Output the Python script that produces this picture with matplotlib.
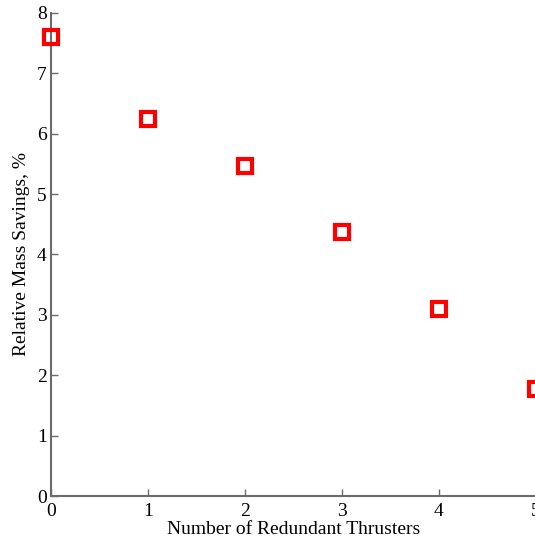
import matplotlib
matplotlib.use("Agg")
import matplotlib.pyplot as plt

# 冗長スラスタ数と相対質量削減率
redundant_thrusters = [0, 1, 2, 3, 4, 5]
mass_savings = [7.6, 6.25, 5.47, 4.38, 3.09, 1.78]
x_ticks = [0, 1, 2, 3, 4, 5]
y_ticks = [0, 1, 2, 3, 4, 5, 6, 7, 8]

plt.rcParams["font.family"] = ["Liberation Serif", "DejaVu Serif"]
plt.rcParams["mathtext.fontset"] = "stix"

fig = plt.figure(figsize=(5.35, 5.44), dpi=100)
ax = fig.add_axes([0.0953, 0.0882, 0.906, 0.888])

ax.plot(redundant_thrusters, mass_savings, linestyle="none", marker="s",
        markersize=10, markerfacecolor="none", markeredgecolor="#ff0000",
        markeredgewidth=3, clip_on=False, zorder=5)

ax.set_xlim(0, 5)
ax.set_ylim(0, 8)
ax.set_xticks(x_ticks)
ax.set_yticks(y_ticks)

for side in ["top", "right"]:
    ax.spines[side].set_visible(False)
for side in ["left", "bottom"]:
    ax.spines[side].set_color("#6b6b6b")
    ax.spines[side].set_linewidth(1.5)

ax.tick_params(direction="in", length=5, width=1, color="#6b6b6b",
               labelsize=14)
ax.tick_params(axis="x", pad=5)
ax.tick_params(axis="y", pad=3)
ax.set_xlabel("Number of Redundant Thrusters", fontsize=14, labelpad=1)
ax.set_ylabel("Relative Mass Savings, %", fontsize=14, labelpad=5)

fig.savefig("out.png", dpi=100)
